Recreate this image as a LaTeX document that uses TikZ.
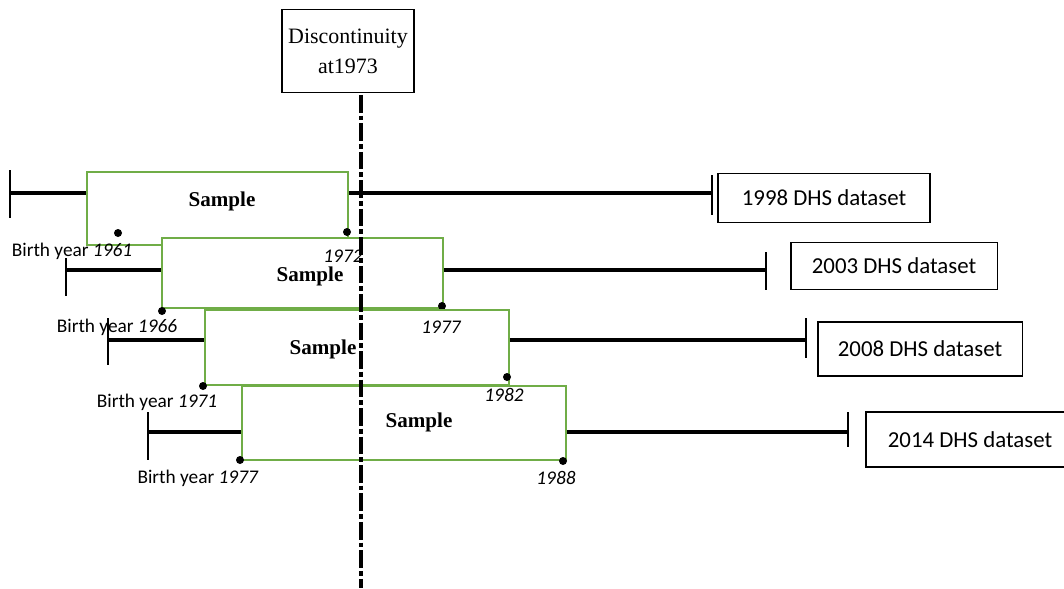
\documentclass[tikz,border=0pt]{standalone}
\usepackage{fontspec}
\setmainfont{Liberation Serif}
\newfontfamily\labfont{Carlito}
\usepackage{tikz}
\usetikzlibrary{arrows.meta,positioning,calc}
\definecolor{SampleGreen}{HTML}{70AD47}

\begin{document}
\begin{tikzpicture}[x=0.02cm,y=-0.02cm,
  sample/.style={draw=SampleGreen,line width=1.1pt,fill=white,inner sep=0pt},
  smptext/.style={font=\bfseries\fontsize{12}{14}\selectfont,inner sep=0pt},
  dataset/.style={draw,line width=1.1pt,inner sep=0pt,font=\labfont\fontsize{13}{15}\selectfont},
  tline/.style={line width=2.3pt},
  tick/.style={line width=1.1pt},
  dot/.style={circle,fill=black,inner sep=0pt,minimum size=0.16cm},
  birth/.style={font=\labfont\fontsize{11}{13}\selectfont,inner sep=0pt},
  yr/.style={font=\labfont\itshape\fontsize{11}{13}\selectfont,inner sep=0pt},
  cut/.style={line width=2.3pt,dash pattern=on 10pt off 1.7pt on 2.8pt off 1.7pt}
]
\useasboundingbox (0,0) rectangle (1064,588);
% discontinuity
\node[draw,line width=1.1pt,minimum width=2.46cm,minimum height=1.66cm,align=center,
  font=\fontsize{12.5}{17}\selectfont] (disc) at (348,51) {Discontinuity\\at1973};
\coordinate (cuttop) at (361,95);
\coordinate (cutbot) at (361,588);

% 1998
\node[sample,minimum width=5.22cm,minimum height=1.46cm] (s1) at (217.5,208.5) {};
\node[smptext] (t1) at (222,201) {Sample};
\coordinate (a1) at (10,193);
\coordinate (z1) at (712,193);
\draw[tline] (a1) -- (s1.west |- a1);
\draw[tline] (s1.east |- a1) -- (z1);
\draw[tick] ($(a1)+(0,-23)$) -- ($(a1)+(0,25)$);
\draw[tick] ($(z1)+(0,-18)$) -- ($(z1)+(0,22)$);
\node[dataset,minimum width=4.24cm,minimum height=0.98cm] (d1) at (824,198) {1998 DHS dataset};
\node[dot] (b1) at (118,233) {};
\node[dot] (e1) at (347,232) {};

% 2003
\node[sample,minimum width=5.62cm,minimum height=1.40cm] (s2) at (302.5,273) {};
\node[smptext] (t2) at (310,276) {Sample};
\coordinate (a2) at (66,270);
\coordinate (z2) at (766,270);
\draw[tline] (a2) -- (s2.west |- a2);
\draw[tline] (s2.east |- a2) -- (z2);
\draw[tick] ($(a2)+(0,-12)$) -- ($(a2)+(0,26)$);
\draw[tick] ($(z2)+(0,-18)$) -- ($(z2)+(0,20)$);
\node[dataset,minimum width=4.14cm,minimum height=0.94cm] (d2) at (894,266) {2003 DHS dataset};
\node[dot] (b2) at (162,311) {};
\node[dot] (e2) at (442,306) {};

% 2008
\node[sample,minimum width=6.08cm,minimum height=1.50cm] (s3) at (357,347.5) {};
\node[smptext] (t3) at (323,349) {Sample};
\coordinate (a3) at (108,340);
\coordinate (z3) at (806,340);
\draw[tline] (a3) -- (s3.west |- a3);
\draw[tline] (s3.east |- a3) -- (z3);
\draw[tick] ($(a3)+(0,-22)$) -- ($(a3)+(0,25)$);
\draw[tick] ($(z3)+(0,-22)$) -- ($(z3)+(0,18)$);
\node[dataset,minimum width=4.10cm,minimum height=1.08cm] (d3) at (920,349) {2008 DHS dataset};
\node[dot] (b3) at (203,386) {};
\node[dot] (e3) at (507,377) {};

% 2014
\node[sample,minimum width=6.48cm,minimum height=1.48cm] (s4) at (404,423) {};
\node[smptext] (t4) at (419,422) {Sample};
\coordinate (a4) at (148,432);
\coordinate (z4) at (848,432);
\draw[tline] (a4) -- (s4.west |- a4);
\draw[tline] (s4.east |- a4) -- (z4);
\draw[tick] ($(a4)+(0,-20)$) -- ($(a4)+(0,28)$);
\draw[tick] ($(z4)+(0,-20)$) -- ($(z4)+(0,15)$);
\node[dataset,minimum width=4.16cm,minimum height=1.10cm] (d4) at (970,439.5) {2014 DHS dataset};
\node[dot] (b4) at (240,460) {};
\node[dot] (e4) at (563,461) {};

% birth year labels
\node[birth] at (72,251) {Birth year \textit{1961}};
\node[birth] at (117,327) {Birth year \textit{1966}};
\node[birth] at (157,402) {Birth year \textit{1971}};
\node[birth] at (198,478) {Birth year \textit{1977}};
\node[yr] at (343,256) {1972};
\node[yr] at (441,327) {1977};
\node[yr] at (504,395) {1982};
\node[yr] at (556,478) {1988};

\draw[cut] (cuttop) -- (cutbot);
\end{tikzpicture}
\end{document}
